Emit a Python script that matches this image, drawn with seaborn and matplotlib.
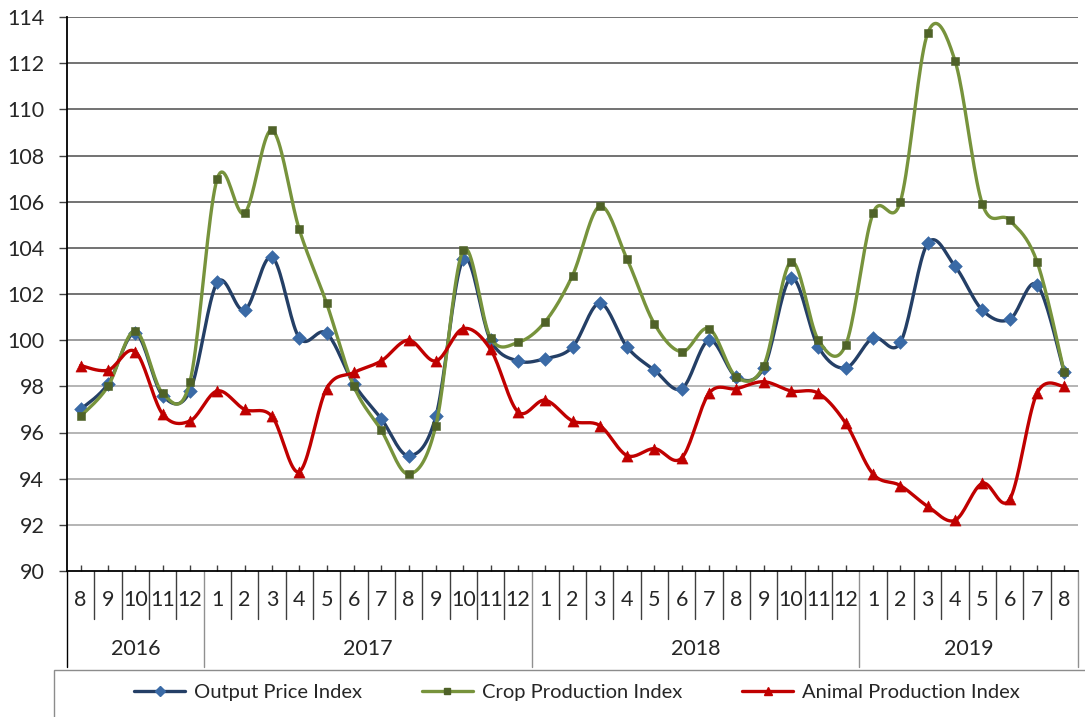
import numpy as np
import seaborn as sns
import matplotlib.pyplot as plt
import matplotlib.transforms as mtransforms
from matplotlib.lines import Line2D
from matplotlib.patches import Rectangle

# months Aug 2016 .. Aug 2019
month_labels = ['8', '9', '10', '11', '12',
                '1', '2', '3', '4', '5', '6', '7', '8', '9', '10', '11', '12',
                '1', '2', '3', '4', '5', '6', '7', '8', '9', '10', '11', '12',
                '1', '2', '3', '4', '5', '6', '7', '8']
year_of_month = [2016] * 5 + [2017] * 12 + [2018] * 12 + [2019] * 8

output_price = [97.0, 98.1, 100.3, 97.6, 97.8,
                102.5, 101.3, 103.6, 100.1, 100.3, 98.1, 96.6, 95.0, 96.7, 103.5, 100.0, 99.1,
                99.2, 99.7, 101.6, 99.7, 98.7, 97.9, 100.0, 98.4, 98.8, 102.7, 99.7, 98.8,
                100.1, 99.9, 104.2, 103.2, 101.3, 100.9, 102.4, 98.6]
crop_prod = [96.7, 98.0, 100.4, 97.7, 98.2,
             107.0, 105.5, 109.1, 104.8, 101.6, 98.0, 96.1, 94.2, 96.3, 103.9, 100.1, 99.9,
             100.8, 102.8, 105.8, 103.5, 100.7, 99.5, 100.5, 98.4, 98.9, 103.4, 100.0, 99.8,
             105.5, 106.0, 113.3, 112.1, 105.9, 105.2, 103.4, 98.6]
animal_prod = [98.9, 98.7, 99.5, 96.8, 96.5,
               97.8, 97.0, 96.7, 94.3, 97.9, 98.6, 99.1, 100.0, 99.1, 100.5, 99.6, 96.9,
               97.4, 96.5, 96.3, 95.0, 95.3, 94.9, 97.7, 97.9, 98.2, 97.8, 97.7, 96.4,
               94.2, 93.7, 92.8, 92.2, 93.8, 93.1, 97.7, 98.0]

series = [
    ('Output Price Index', output_price, '#243f66', '#3a6aa6', 'D', 7),
    ('Crop Production Index', crop_prod, '#77933c', '#4f6228', 's', 6),
    ('Animal Production Index', animal_prod, '#c00000', '#c00000', '^', 8),
]


def smooth(x, y, steps=20):
    # Excel style smoothed line (Catmull-Rom through the points)
    px = np.r_[x[0], x, x[-1]]
    py = np.r_[y[0], y, y[-1]]
    t = np.linspace(0, 1, steps, endpoint=False)
    out_x, out_y = [], []
    for i in range(len(x) - 1):
        for p, out in ((px, out_x), (py, out_y)):
            p0, p1, p2, p3 = p[i], p[i + 1], p[i + 2], p[i + 3]
            out.append(0.5 * (2 * p1 + (p2 - p0) * t
                              + (2 * p0 - 5 * p1 + 4 * p2 - p3) * t ** 2
                              + (3 * p1 - p0 - 3 * p2 + p3) * t ** 3))
    return np.r_[np.concatenate(out_x), x[-1]], np.r_[np.concatenate(out_y), y[-1]]


sns.set_theme(style='white')
plt.rcParams['font.family'] = ['Lato', 'DejaVu Sans']

W, H = 1085, 717
fig = plt.figure(figsize=(W / 100, H / 100), dpi=100)
ax = fig.add_axes([67 / W, (H - 571) / H, (1078 - 67) / W, (571 - 17) / H])

x = np.arange(len(month_labels))
for z, (name, vals, lc, mc, mk, ms) in enumerate(series):
    sx, sy = smooth(x.astype(float), np.array(vals))
    sns.lineplot(x=sx, y=sy, ax=ax, color=lc, lw=2.4, sort=False,
                 estimator=None, zorder=3 + 2 * z)
    sns.scatterplot(x=x, y=vals, ax=ax, marker=mk, s=ms ** 2, color=mc,
                    edgecolor=mc, linewidth=0.4, zorder=4 + 2 * z)

ax.set_xlim(-0.5, len(x) - 0.5)
ax.set_ylim(90, 114)
yticks = np.arange(90, 115, 2)
ax.set_yticks(yticks)
for v in yticks[1:]:
    c = '#5a5a5a' if v > 100 else ('#8c8c8c' if v == 100 else '#a8a8a8')
    ax.axhline(v, color=c, lw=1.2, zorder=1)

for s in ['top', 'right']:
    ax.spines[s].set_visible(False)
for s in ['left', 'bottom']:
    ax.spines[s].set_color('black')
    ax.spines[s].set_linewidth(1.3)

ax.tick_params(axis='y', length=5.8, width=1, color='#404040', pad=10.5,
               labelsize=15.5, left=True)
ax.set_xticks([])
ax.set_xticks(x, minor=True)
ax.tick_params(axis='x', which='minor', direction='in', length=4.3, width=1,
               color='#404040', bottom=True)

# two-level category axis
trans = mtransforms.blended_transform_factory(ax.transData, ax.transAxes)
for i in range(len(x) + 1):
    boundary = i == 0 or i == len(x) or year_of_month[i] != year_of_month[i - 1]
    bottom = -0.1733 if boundary else -0.0866
    col = 'black' if i == 0 else ('#909090' if boundary else '#3f3f3f')
    ax.plot([i - 0.5, i - 0.5], [0, bottom], transform=trans, clip_on=False,
            color=col, lw=1)
for i, lab in enumerate(month_labels):
    ax.text(i, -0.0523, lab, transform=trans, ha='center', va='center',
            fontsize=15.5)
for yr in sorted(set(year_of_month)):
    idx = [i for i, v in enumerate(year_of_month) if v == yr]
    ax.text(np.mean(idx), -0.1408, str(yr), transform=trans, ha='center',
            va='center', fontsize=15.5)

# legend box under the chart
fig.patches.append(Rectangle((54 / W, -0.01), 1.1, (H - 670) / H + 0.01,
                             transform=fig.transFigure, fill=False,
                             edgecolor='#8c8c8c', lw=1))
handles = [Line2D([], [], color=lc, lw=2.4, marker=mk, markersize=ms * 0.8,
                  markerfacecolor=mc, markeredgecolor=mc)
           for name, vals, lc, mc, mk, ms in series]
fig.legend(handles, [s[0] for s in series], loc='center',
           bbox_to_anchor=(577 / W, 1 - 692 / H), ncol=3, frameon=False,
           fontsize=14.5, handlelength=2.5, handletextpad=0.45,
           columnspacing=3.0)

fig.savefig('out.png', dpi=100)
